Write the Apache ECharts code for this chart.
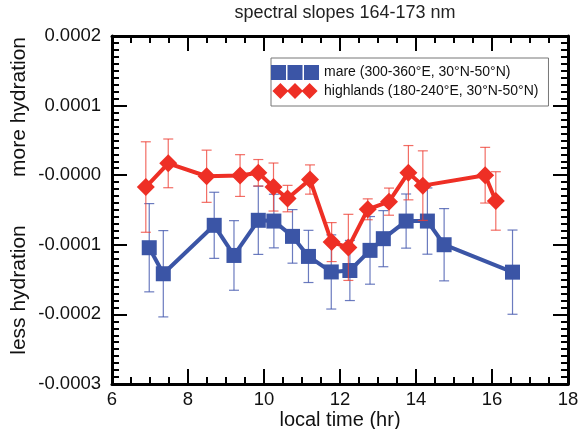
<!DOCTYPE html>
<html>
<head>
<meta charset="utf-8">
<script src="https://cdn.jsdelivr.net/npm/echarts@6/dist/echarts.min.js"></script>
<style>html,body{margin:0;padding:0;background:#fff}#c{width:579px;height:429px}</style>
</head>
<body>
<div id="c"></div>
<script>
// ---- data ----
const mareName = 'mare (300-360°E, 30°N-50°N)';
const highName = 'highlands (180-240°E, 30°N-50°N)';
const mareX = [6.98, 7.35, 8.69, 9.21, 9.85, 10.26, 10.75, 11.17, 11.77, 12.26, 12.79, 13.14, 13.74, 14.3, 14.74, 16.54];
const mareY = [-0.0001042, -0.0001416, -0.0000720, -0.0001153, -0.0000648, -0.0000659, -0.0000879, -0.0001167, -0.0001390, -0.0001369, -0.0001080, -0.0000912, -0.0000659, -0.0000659, -0.0000999, -0.0001393];
const mareErr = [0.0000634, 0.0000620, 0.0000475, 0.0000500, 0.0000490, 0.0000385, 0.0000385, 0.0000375, 0.0000533, 0.0000432, 0.0000486, 0.0000403, 0.0000389, 0.0000476, 0.0000519, 0.0000605];
const highX = [6.89, 7.48, 8.49, 9.37, 9.85, 10.25, 10.62, 11.21, 11.78, 12.22, 12.73, 13.29, 13.80, 14.18, 15.82, 16.10];
const highY = [-0.0000170, 0.0000170, -0.0000015, -0.0000005, 0.0000035, -0.0000170, -0.0000336, -0.0000062, -0.0000961, -0.0001037, -0.0000490, -0.0000380, 0.0000036, -0.0000150, 0.0000000, -0.0000370];
const highErr = [0.0000650, 0.0000350, 0.0000375, 0.0000300, 0.0000190, 0.0000345, 0.0000190, 0.0000210, 0.0000280, 0.0000475, 0.0000150, 0.0000195, 0.0000390, 0.0000500, 0.0000400, 0.0000420];
const xTicks = {min: 6, max: 18, interval: 2, minorInterval: 0.5};
const yTicks = {min: -0.0003, max: 0.0002, interval: 0.0001, minorInterval: 0.00001};

// ---- build ----
const blue = '#3b55a6', blueErr = 'rgba(70,90,175,0.8)';
const red = '#ee2f25', redErr = 'rgba(238,60,50,0.75)';
const font = 'Liberation Sans, Arial, Helvetica, sans-serif';

function pts(xs, ys) { return xs.map((x, i) => [x, ys[i]]); }
function errs(xs, ys, es) { return xs.map((x, i) => [x, ys[i] - es[i], ys[i] + es[i]]); }
function errRender(color) {
  return function (params, api) {
    const x = api.value(0);
    const lo = api.coord([x, api.value(1)]);
    const hi = api.coord([x, api.value(2)]);
    const w = 5;
    const st = {stroke: color, lineWidth: 1.2};
    return {type: 'group', children: [
      {type: 'line', shape: {x1: lo[0], y1: lo[1], x2: hi[0], y2: hi[1]}, style: st},
      {type: 'line', shape: {x1: lo[0] - w, y1: lo[1], x2: lo[0] + w, y2: lo[1]}, style: st},
      {type: 'line', shape: {x1: hi[0] - w, y1: hi[1], x2: hi[0] + w, y2: hi[1]}, style: st}
    ]};
  };
}
function yFmt(v) {
  if (Math.abs(v) < 1e-12) return '-0.0000';
  return v.toFixed(4);
}
function mkAxis(t, pos, major, showLabel, extra) {
  return Object.assign({
    type: 'value', position: pos, min: t.min, max: t.max,
    interval: major ? t.interval : t.minorInterval,
    axisLine: {show: major, onZero: false, lineStyle: {color: '#000', width: 3}},
    splitLine: {show: false},
    axisTick: {show: true, inside: true, length: major ? 15 : 7, lineStyle: {color: '#000', width: 2}},
    axisLabel: {show: false}
  }, extra || {});
}
const labelStyle = {fontFamily: font, fontSize: 18.5, color: '#111'};
const bluePath = 'path://M0,0H15V15H0Z M16.5,0H31.5V15H16.5Z M33,0H48V15H33Z';
const redPath = 'path://M0,8.5L8.5,0L17,8.5L8.5,17Z M15.5,8.5L24,0L32.5,8.5L24,17Z M31,8.5L39.5,0L48,8.5L39.5,17Z';

const option = {
  animation: false,
  backgroundColor: '#fff',
  title: {text: 'spectral slopes 164-173 nm', left: 340, top: -1, textAlign: 'center',
    textStyle: {fontFamily: font, fontSize: 18, fontWeight: 'normal', color: '#222'}},
  grid: {left: 112, right: 11, top: 36, bottom: 45, outerBoundsMode: 'none'},
  legend: {
    orient: 'vertical', left: 271, top: 58, padding: [7, 10, 7, 0],
    itemWidth: 48, itemHeight: 16, itemGap: 3,
    borderColor: '#777', borderWidth: 1, backgroundColor: '#fff',
    textStyle: {fontFamily: font, fontSize: 14, color: '#111'},
    data: [{name: mareName, icon: bluePath}, {name: highName, icon: redPath}],
    itemStyle: {borderWidth: 0}
  },
  xAxis: [
    mkAxis(xTicks, 'bottom', true, true, {
      name: 'local time (hr)', nameLocation: 'middle', nameGap: 26, nameMoveOverlap: false,
      nameTextStyle: {fontFamily: font, fontSize: 20, color: '#111'},
      axisLabel: Object.assign({show: true, margin: 6}, labelStyle)}),
    mkAxis(xTicks, 'top', true),
    mkAxis(xTicks, 'bottom', false),
    mkAxis(xTicks, 'top', false)
  ],
  yAxis: [
    mkAxis(yTicks, 'left', true, true, {
      axisLabel: Object.assign({show: true, margin: 11, formatter: yFmt}, labelStyle)}),
    mkAxis(yTicks, 'right', true),
    mkAxis(yTicks, 'left', false),
    mkAxis(yTicks, 'right', false)
  ],
  graphic: [
    {type: 'text', x: 19, y: 107, rotation: Math.PI / 2, style: {text: 'more hydration', fontFamily: font, fontSize: 21, fill: '#111', align: 'center', verticalAlign: 'middle'}},
    {type: 'text', x: 19, y: 290, rotation: Math.PI / 2, style: {text: 'less hydration', fontFamily: font, fontSize: 21, fill: '#111', align: 'center', verticalAlign: 'middle'}}
  ],
  series: [
    {name: 'mareErr', type: 'custom', renderItem: errRender(blueErr), data: errs(mareX, mareY, mareErr), encode: {x: 0, y: [1, 2]}, z: 1},
    {name: mareName, type: 'line', data: pts(mareX, mareY), symbol: 'rect', symbolSize: 15,
      lineStyle: {color: blue, width: 4}, itemStyle: {color: blue}, z: 2},
    {name: 'highErr', type: 'custom', renderItem: errRender(redErr), data: errs(highX, highY, highErr), encode: {x: 0, y: [1, 2]}, z: 3},
    {name: highName, type: 'line', data: pts(highX, highY), symbol: 'diamond', symbolSize: [18, 18],
      lineStyle: {color: red, width: 4}, itemStyle: {color: red}, z: 4}
  ]
};
const chart = echarts.init(document.getElementById('c'));
chart.setOption(option);
</script>
</body>
</html>
